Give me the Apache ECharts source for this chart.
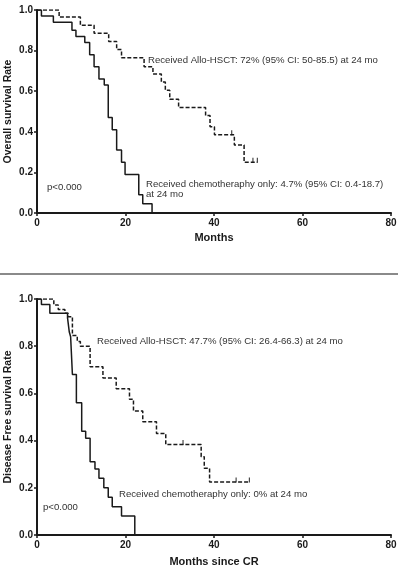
<!DOCTYPE html>
<html>
<head>
<meta charset="utf-8">
<script src="https://cdn.jsdelivr.net/npm/echarts@6/dist/echarts.min.js"></script>
<style>
html, body { margin: 0; padding: 0; background: #fff; }
#main { width: 398px; height: 567px; }
</style>
</head>
<body>
<div id="main"></div>
<script>
// overall survival, [month, rate]
var osChemo = [[0, 1], [1.0, 0.97], [3.7, 0.94], [7.9, 0.9], [8.8, 0.87], [10.8, 0.84], [11.9, 0.78],
    [12.9, 0.72], [14.0, 0.66], [15.2, 0.63], [16.1, 0.47], [17.0, 0.41], [18.0, 0.31], [19.1, 0.25],
    [19.9, 0.19], [23.0, 0.09], [23.9, 0.045], [26.0, 0]];
var osHsct = [[0, 1], [5.0, 0.965], [9.8, 0.925], [12.9, 0.885], [16.2, 0.845], [18.0, 0.805], [19.1, 0.765],
    [24.2, 0.72], [26.2, 0.685], [28.1, 0.645], [29.0, 0.605], [30.0, 0.56], [32.0, 0.52], [38.1, 0.48],
    [39.1, 0.425], [40.1, 0.385], [44.6, 0.335], [46.8, 0.25], [49.8, 0.25]];
var osCensor = [[44.0, 0.385], [48.8, 0.25], [49.8, 0.25]];

// disease free survival, [month since CR, rate]
var dfsChemo = [[0, 1], [1.0, 0.977], [2.9, 0.94], [6.9, 0.92], [7.3, 0.86], [7.6, 0.84], [8.0, 0.68],
    [8.9, 0.56], [10.1, 0.44], [11.0, 0.41], [12.0, 0.31], [13.1, 0.28], [14.0, 0.24], [15.1, 0.2],
    [16.1, 0.16], [17.0, 0.12], [19.1, 0.08], [22.1, 0]];
var dfsHsct = [[0, 1], [3.8, 0.975], [4.8, 0.955], [6.3, 0.94], [7.05, 0.925], [8.0, 0.845], [9.1, 0.82],
    [9.8, 0.8], [12.0, 0.713], [14.9, 0.665], [17.9, 0.62], [20.9, 0.575], [21.8, 0.525], [23.9, 0.48],
    [27.0, 0.43], [29.1, 0.383], [37.1, 0.332], [37.8, 0.283], [39.0, 0.225], [48.0, 0.225]];
var dfsCensor = [[33.0, 0.383], [45.0, 0.225], [48.0, 0.225]];

var xNames = ['Months', 'Months since CR'];
var yNames = ['Overall survival Rate', 'Disease Free survival Rate'];

var myChart = echarts.init(document.getElementById('main'));
var ink = '#1a1a1a';

function xAxis(i, gap) {
    return {
        type: 'value', gridIndex: i, min: 0, max: 80, interval: 20,
        name: xNames[i], nameLocation: 'middle', nameGap: gap, nameMoveOverlap: false,
        nameTextStyle: { fontWeight: 'bold', fontSize: 11, color: ink },
        axisLine: { lineStyle: { color: ink, width: 2 } },
        axisTick: { length: 3, lineStyle: { color: ink, width: 1.5 } },
        axisLabel: { fontWeight: 'bold', fontSize: 10, color: ink, margin: 5 },
        splitLine: { show: false }
    };
}
function yAxis(i) {
    return {
        type: 'value', gridIndex: i, min: 0, max: 1, interval: 0.2,
        name: yNames[i], nameLocation: 'middle', nameGap: 23, nameMoveOverlap: false,
        nameTextStyle: { fontWeight: 'bold', fontSize: 10.5, color: ink },
        axisLine: { show: true, lineStyle: { color: ink, width: 2 } },
        axisTick: { show: true, length: 3, lineStyle: { color: ink, width: 1.5 } },
        axisLabel: { fontWeight: 'bold', fontSize: 10, color: ink, margin: 4,
            formatter: function (v) { return v.toFixed(1); } },
        splitLine: { show: false }
    };
}
function curve(i, data, dashed) {
    return {
        type: 'line', xAxisIndex: i, yAxisIndex: i, step: 'end', data: data,
        symbol: 'none', silent: true,
        lineStyle: { color: ink, width: 1.5, type: dashed ? [4, 2] : 'solid' }
    };
}
function censor(i, data) {
    return {
        type: 'scatter', xAxisIndex: i, yAxisIndex: i, data: data, silent: true,
        symbol: 'rect', symbolSize: [1.2, 5], symbolOffset: [0, -2],
        itemStyle: { color: ink }
    };
}
function note(x, y, txt) {
    return { type: 'text', left: x, top: y,
        style: { text: txt, font: '9.6px "Liberation Sans"', fill: '#333', lineHeight: 10 } };
}

var option = {
    animation: false,
    textStyle: { fontFamily: 'Liberation Sans' },
    grid: [
        { left: 37, right: 7, top: 10, height: 203, outerBoundsMode: 'none', containLabel: false },
        { left: 37, right: 7, top: 299, height: 236, outerBoundsMode: 'none', containLabel: false }
    ],
    xAxis: [xAxis(0, 19), xAxis(1, 21)],
    yAxis: [yAxis(0), yAxis(1)],
    series: [
        curve(0, osChemo, false), curve(0, osHsct, true), censor(0, osCensor),
        curve(1, dfsChemo, false), curve(1, dfsHsct, true), censor(1, dfsCensor)
    ],
    graphic: [
        { type: 'line', shape: { x1: 0, y1: 274, x2: 398, y2: 274 }, style: { stroke: '#8a8a8a', lineWidth: 2 } },
        note(148, 55, 'Received Allo-HSCT: 72% (95% CI: 50-85.5) at 24 mo'),
        note(146, 179, 'Received chemotheraphy only: 4.7% (95% CI: 0.4-18.7)\nat 24 mo'),
        note(47, 182, 'p<0.000'),
        note(97, 336, 'Received Allo-HSCT: 47.7% (95% CI: 26.4-66.3) at 24 mo'),
        note(119, 489, 'Received chemotheraphy only: 0% at 24 mo'),
        note(43, 502, 'p<0.000')
    ]
};

myChart.setOption(option);
window.addEventListener('resize', function () {
    myChart.resize();
});
</script>
</body>
</html>
